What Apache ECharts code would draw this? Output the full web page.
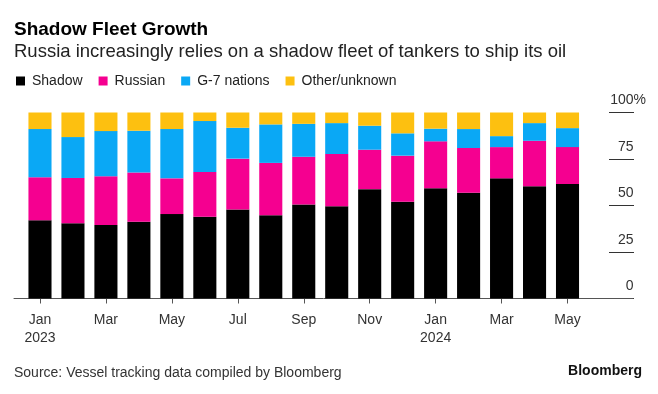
<!DOCTYPE html>
<html>
<head>
<meta charset="utf-8">
<script src="https://cdn.jsdelivr.net/npm/echarts@6/dist/echarts.min.js"></script>
<style>
html,body{margin:0;padding:0;background:#fff;}
#c{width:658px;height:394px;}
</style>
</head>
<body>
<div id="c"></div>
<script>
const categories = ["Jan\n2023","Feb","Mar","Apr","May","Jun","Jul","Aug","Sep","Oct","Nov","Dec","Jan\n2024","Feb","Mar","Apr","May"];
const shadow  = [42.1,40.5,39.5,41.3,45.4,43.9,47.9,44.8,50.5,49.6,58.8,52.0,59.3,56.8,64.6,60.4,61.6];
const russian = [23.1,24.3,26.2,26.4,19.2,24.1,27.3,28.1,25.7,28.1,21.2,24.8,25.2,24.1,16.8,24.4,19.8];
const g7      = [25.9,22.0,24.3,22.5,26.5,27.4,16.6,20.7,17.7,16.6,12.9,12.0,6.8,10.2,5.9,9.5,10.2];
const other   = [8.9,13.2,10.0,9.8,8.9,4.6,8.2,6.4,6.1,5.7,7.1,11.2,8.7,8.9,12.7,5.7,8.4];
const yTicks = [0,25,50,75,100];

const FONT = '"Liberation Sans", Arial, sans-serif';
const chart = echarts.init(document.getElementById('c'), null, {renderer:'canvas'});
const mk = (name, data, color) => ({
  name, type:'bar', stack:'total', data, xAxisIndex:0, yAxisIndex:0,
  barCategoryGap:'30%', itemStyle:{color}, emphasis:{disabled:true}
});
chart.setOption({
  animation:false,
  backgroundColor:'#fff',
  textStyle:{fontFamily:FONT},
  title:[
    {left:14, top:19, padding:0, itemGap:0,
     text:'Shadow Fleet Growth',
     subtext:'Russia increasingly relies on a shadow fleet of tankers to ship its oil',
     textStyle:{fontFamily:FONT, fontSize:19, fontWeight:'bold', color:'#000', lineHeight:22},
     subtextStyle:{fontFamily:FONT, fontSize:18.5, color:'#222', lineHeight:21}},
    {left:14, top:364, padding:0, text:'Source: Vessel tracking data compiled by Bloomberg',
     textStyle:{fontFamily:FONT, fontSize:14, fontWeight:'normal', color:'#333', lineHeight:18}},
    {right:16, top:362, padding:0, text:'Bloomberg',
     textStyle:{fontFamily:FONT, fontSize:14, fontWeight:'bold', color:'#111', lineHeight:18}}
  ],
  legend:{
    left:16, top:73, padding:0, icon:'rect', itemWidth:9, itemHeight:9, itemGap:16,
    textStyle:{fontFamily:FONT, fontSize:14, color:'#222', lineHeight:16, padding:[0,0,0,2]},
    data:['Shadow','Russian','G-7 nations','Other/unknown']
  },
  grid:[
    {left:23.5, right:74, top:112.5, bottom:95.5},
    {left:14, right:25, top:112.5, bottom:95.5},
    {left:609, right:24, top:112.5, bottom:95.5}
  ],
  xAxis:[
    {type:'category', gridIndex:0, data:categories,
     axisLine:{show:false},
     axisTick:{show:true, interval:1, alignWithLabel:true, length:5, lineStyle:{color:'#555'}},
     axisLabel:{interval:1, margin:13, fontFamily:FONT, fontSize:14, color:'#333', lineHeight:18}},
    {type:'value', gridIndex:1, min:0, max:1,
     axisLine:{show:true, onZero:false, lineStyle:{color:'#555', width:1}},
     axisTick:{show:false}, axisLabel:{show:false}, splitLine:{show:false}},
    {type:'value', gridIndex:2, min:0, max:1, show:false}
  ],
  yAxis:[
    {type:'value', gridIndex:0, min:0, max:100, show:false},
    {type:'value', gridIndex:1, min:0, max:100, show:false},
    {type:'value', gridIndex:2, min:0, max:100, interval:25, position:'right',
     axisLine:{show:false}, axisTick:{show:false},
     splitLine:{show:true, lineStyle:{color:'#333', width:1}},
     axisLabel:{inside:true, margin:-12, verticalAlign:'bottom', lineHeight:14, padding:[0,0,5,0],
       fontFamily:FONT, fontSize:14, color:'#333',
       formatter:v => String(v) + (v===100 ? '{p|%}' : '{h|%}'),
       rich:{
         p:{fontFamily:FONT, fontSize:14, color:'#333', lineHeight:14},
         h:{fontFamily:FONT, fontSize:14, color:'rgba(0,0,0,0)', lineHeight:14}
       }}}
  ],
  series:[
    mk('Shadow', shadow, '#000000'),
    mk('Russian', russian, '#f50090'),
    mk('G-7 nations', g7, '#0aa8f5'),
    mk('Other/unknown', other, '#fdc010')
  ]
});
</script>
</body>
</html>
